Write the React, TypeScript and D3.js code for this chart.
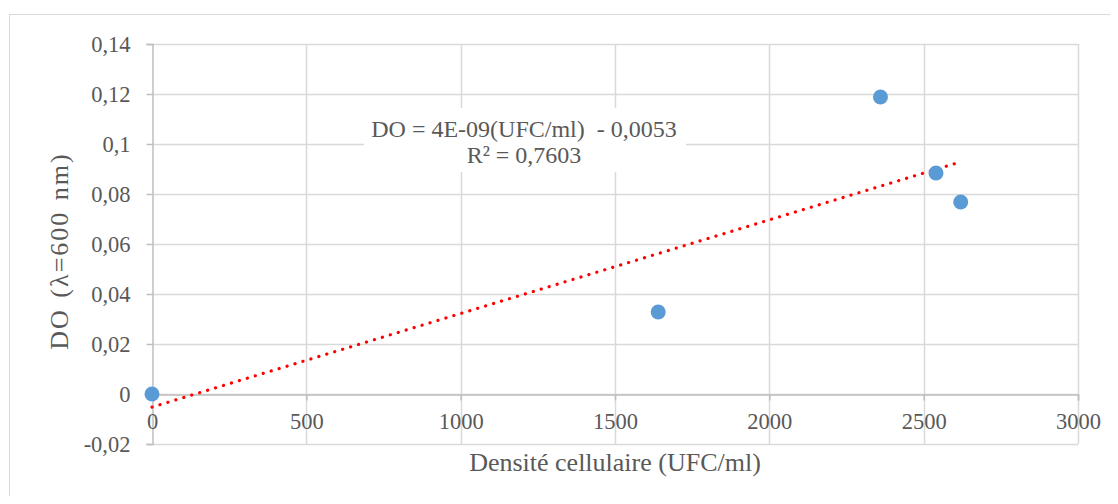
import { useEffect, useRef } from 'react';
import * as d3 from 'd3';

// Data
const densite: number[] = [0, 1640, 2360, 2540, 2620];
const densiteOptique: number[] = [0, 0.0328, 0.1188, 0.0884, 0.0768];
const xTicks: number[] = [0, 500, 1000, 1500, 2000, 2500, 3000];
const yTicks: number[] = [-0.02, 0, 0.02, 0.04, 0.06, 0.08, 0.1, 0.12, 0.14];
const equationLines: string[] = ['DO = 4E-09(UFC/ml)  - 0,0053', 'R² = 0,7603'];

const fmt = (v: number) => String(+v.toFixed(2)).replace('.', ',');

export default function App() {
    const svgRef = useRef<SVGSVGElement>(null);

    useEffect(() => {
        const svg = d3.select(svgRef.current);
        svg.selectAll('*').remove();

        const W = 1118;
        const H = 504;
        const margin = { top: 44, right: 40, bottom: 60, left: 152 };
        const plotW = 1078 - margin.left;
        const font = '"Liberation Serif", "Times New Roman", serif';
        const textColor = '#595959';

        svg.attr('width', W).attr('height', H).style('display', 'block');

        // outer chart frame
        svg.append('rect')
            .attr('x', 9.5)
            .attr('y', 14.5)
            .attr('width', W + 20)
            .attr('height', H + 20)
            .attr('fill', 'white')
            .attr('stroke', '#d9d9d9');

        const x = d3.scaleLinear().domain([0, 3000]).range([margin.left, margin.left + plotW]);
        const y = d3.scaleLinear().domain([-0.02, 0.14]).range([444, margin.top]);

        const g = svg.append('g');

        // gridlines
        g.selectAll('.hgrid')
            .data(yTicks)
            .enter()
            .append('line')
            .attr('x1', x(0))
            .attr('x2', x(3000))
            .attr('y1', (d) => Math.round(y(d)) + 0.5)
            .attr('y2', (d) => Math.round(y(d)) + 0.5)
            .attr('stroke', '#d9d9d9')
            .attr('stroke-width', 1.5);

        g.selectAll('.vgrid')
            .data(xTicks.slice(1))
            .enter()
            .append('line')
            .attr('x1', (d) => Math.round(x(d)) + 0.5)
            .attr('x2', (d) => Math.round(x(d)) + 0.5)
            .attr('y1', y(0.14))
            .attr('y2', y(-0.02))
            .attr('stroke', '#d9d9d9')
            .attr('stroke-width', 1.5);

        // Y axis
        const yAxis = g.append('g')
            .attr('transform', `translate(${Math.round(x(0)) + 0.5},0)`)
            .call(d3.axisLeft(y).tickValues(yTicks).tickSize(6).tickPadding(16).tickFormat((d) => fmt(d as number)));
        yAxis.select('.domain').attr('stroke', '#bfbfbf').attr('stroke-width', 1.5);
        yAxis.selectAll('line').attr('stroke', '#bfbfbf').attr('stroke-width', 1.5);
        yAxis.selectAll('text')
            .attr('fill', textColor)
            .style('font-family', font)
            .style('font-size', '22.5px');

        // X axis at y = 0
        const xAxis = g.append('g')
            .attr('transform', `translate(0,${Math.round(y(0)) + 0.5})`)
            .call(d3.axisBottom(x).tickValues(xTicks).tickSizeOuter(0).tickSize(6).tickPadding(13).tickFormat((d) => String(d)));
        xAxis.select('.domain').attr('stroke', '#bfbfbf').attr('stroke-width', 1.5);
        xAxis.selectAll('line').attr('stroke', '#bfbfbf').attr('stroke-width', 1.5);
        xAxis.selectAll('text')
            .attr('fill', textColor)
            .style('font-family', font)
            .style('font-size', '22.5px');

        // Linear regression (trend line)
        const mx = d3.mean(densite) as number;
        const my = d3.mean(densiteOptique) as number;
        let sxy = 0;
        let sxx = 0;
        densite.forEach((v, i) => {
            sxy += (v - mx) * (densiteOptique[i] - my);
            sxx += (v - mx) * (v - mx);
        });
        const slope = sxy / sxx;
        const intercept = my - slope * mx;
        const xMax = d3.max(densite) as number;
        const trend: [number, number][] = [
            [0, intercept],
            [xMax, intercept + slope * xMax],
        ];

        g.append('path')
            .datum(trend)
            .attr('d', d3.line<[number, number]>().x((d) => x(d[0])).y((d) => y(d[1])))
            .attr('fill', 'none')
            .attr('stroke', '#ff0000')
            .attr('stroke-width', 3.2)
            .attr('stroke-linecap', 'round')
            .attr('stroke-dasharray', '0.1 8.2');

        // Points
        g.selectAll('.pt')
            .data(densite)
            .enter()
            .append('circle')
            .attr('cx', (d) => x(d))
            .attr('cy', (d, i) => y(densiteOptique[i]))
            .attr('r', 7.5)
            .attr('fill', '#5b9bd5');

        // Equation label
        const labelX = 524;
        const label = g.append('g');
        label.append('rect')
            .attr('x', 364)
            .attr('y', 108)
            .attr('width', 322)
            .attr('height', 64)
            .attr('fill', 'white');
        equationLines.forEach((t, i) => {
            label.append('text')
                .attr('x', labelX)
                .attr('y', 137 + i * 26)
                .attr('text-anchor', 'middle')
                .attr('fill', textColor)
                .style('font-family', font)
                .style('font-size', '24px')
                .style('white-space', 'pre')
                .text(t);
        });

        // Axis titles
        svg.append('text')
            .attr('x', 615)
            .attr('y', 471)
            .attr('text-anchor', 'middle')
            .attr('fill', textColor)
            .style('font-family', font)
            .style('font-size', '26px')
            .text('Densité cellulaire (UFC/ml)');

        svg.append('text')
            .attr('transform', `translate(68,251) rotate(-90)`)
            .attr('text-anchor', 'middle')
            .attr('fill', textColor)
            .style('font-family', font)
            .style('font-size', '26px')
            .style('letter-spacing', '2px')
            .style('word-spacing', '2px')
            .text('DO (λ=600 nm)');
    }, []);

    return (
        <div style={{ margin: -8 }}>
            <svg ref={svgRef}></svg>
        </div>
    );
}
